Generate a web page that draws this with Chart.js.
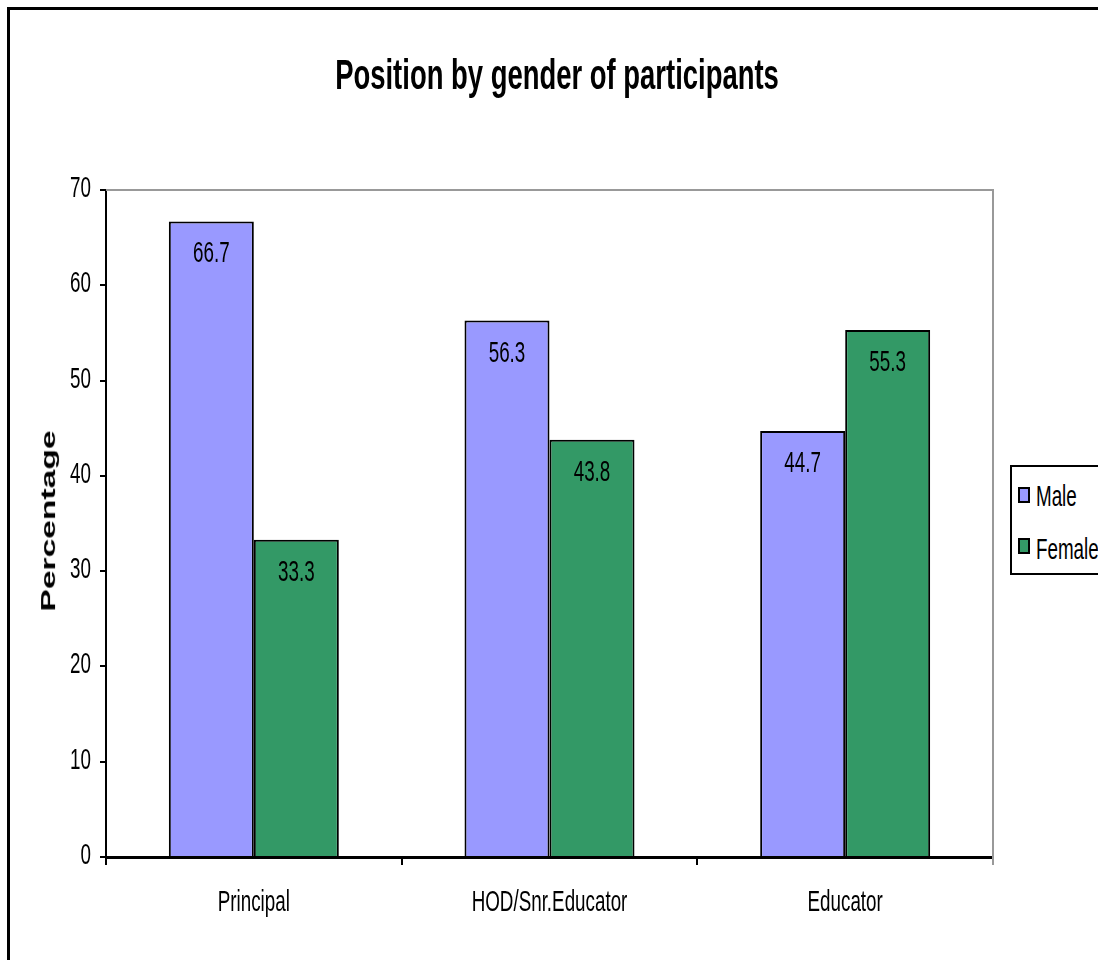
<!DOCTYPE html>
<html>
<head>
<meta charset="utf-8">
<script src="https://cdn.jsdelivr.net/npm/chart.js@4.4.1/dist/chart.umd.min.js"></script>
<style>
    html, body { margin: 0; padding: 0; background: #fff; overflow: hidden; }
    #wrap { position: relative; width: 1098px; height: 960px; overflow: hidden; font-family: 'Liberation Sans', Arial, sans-serif; color: #000; }
    #frame { position: absolute; left: 7px; top: 7px; width: 1300px; height: 1200px; border: 3px solid #000; }
    #chart { position: absolute; left: 0; top: 0; }
    .txt { position: absolute; white-space: nowrap; line-height: 1; }
    #title { left: 557px; top: 75px; font-size: 28px; font-weight: bold; transform: translate(-50%, -50%) scale(0.98, 1.55); }
    #ytitle { left: 48px; top: 521px; font-size: 21px; font-weight: bold; transform: translate(-50%, -50%) rotate(-90deg) scale(1.6, 0.95); }
    #legend { position: absolute; left: 1010px; top: 465px; width: 120px; height: 106px; border: 2px solid #000; background: #fff; }
    .box { position: absolute; width: 8px; height: 12px; border: 2px solid #000; }
    .ltxt { font-size: 20px; transform-origin: left center; transform: translate(0, -50%) scale(0.94, 1.45); }
</style>
</head>
<body>
<div id="wrap">
    <div id="frame"></div>
    <canvas id="chart" width="1098" height="960"></canvas>
    <div id="title" class="txt">Position by gender of participants</div>
    <div id="ytitle" class="txt">Percentage</div>
    <div id="legend"></div>
    <div class="box" style="left:1018px; top:487px; background:#9999ff"></div>
    <div class="txt ltxt" style="left:1036px; top:496px">Male</div>
    <div class="box" style="left:1018px; top:538px; background:#339966"></div>
    <div class="txt ltxt" style="left:1036px; top:549px">Female</div>
</div>
<script>
const positions = ['Principal', 'HOD/Snr.Educator', 'Educator'];
const maleValues = [66.7, 56.3, 44.7];
const femaleValues = [33.3, 43.8, 55.3];
const yTicks = [0, 10, 20, 30, 40, 50, 60, 70];

// the picture is squeezed sideways and stretched upward, so text is too
const SX = 0.94, SY = 1.45;
const textFont = "20px 'Liberation Sans', Arial, sans-serif";

function stretchText(ctx, text, x, y, align) {
    ctx.save();
    ctx.translate(x, y);
    ctx.scale(SX, SY);
    ctx.font = textFont;
    ctx.fillStyle = '#000';
    ctx.textAlign = align;
    ctx.textBaseline = 'middle';
    ctx.fillText(text, 0, 0);
    ctx.restore();
}

// grey frame on top and right of the plot area
const plotFrame = {
    id: 'plotFrame',
    beforeDatasetsDraw(chart) {
        const { ctx, chartArea } = chart;
        ctx.save();
        ctx.strokeStyle = '#999999';
        ctx.lineWidth = 2;
        ctx.beginPath();
        ctx.moveTo(chartArea.left, chartArea.top);
        ctx.lineTo(chartArea.right, chartArea.top);
        ctx.lineTo(chartArea.right, chartArea.bottom + 8);
        ctx.stroke();
        ctx.restore();
    }
};

// tick labels and value labels, drawn stretched like the original
const stretchedLabels = {
    id: 'stretchedLabels',
    afterDraw(chart) {
        const ctx = chart.ctx;
        const xs = chart.scales.x, ys = chart.scales.y;
        ys.ticks.forEach(t => {
            stretchText(ctx, String(t.value), ys.right - 15, ys.getPixelForValue(t.value) - 1, 'right');
        });
        positions.forEach((p, i) => {
            stretchText(ctx, p, xs.getPixelForValue(i), xs.top + 46, 'center');
        });
        chart.data.datasets.forEach((ds, i) => {
            chart.getDatasetMeta(i).data.forEach((bar, j) => {
                stretchText(ctx, ds.data[j].toFixed(1), bar.x, bar.y + 33, 'center');
            });
        });
    }
};

const ctx = document.getElementById('chart').getContext('2d');
new Chart(ctx, {
    type: 'bar',
    data: {
        labels: positions,
        datasets: [{
            label: 'Male',
            data: maleValues,
            backgroundColor: '#9999ff',
            borderColor: '#000',
            borderWidth: 2
        }, {
            label: 'Female',
            data: femaleValues,
            backgroundColor: '#339966',
            borderColor: '#000',
            borderWidth: 2
        }]
    },
    options: {
        responsive: false,
        animation: false,
        datasets: {
            bar: { categoryPercentage: 0.575, barPercentage: 1.0 }
        },
        layout: { padding: { top: 190, right: 105, left: 0, bottom: 0 } },
        scales: {
            x: {
                offset: true,
                afterFit: s => { s.height = 103; },
                grid: { offset: true, drawOnChartArea: false, drawTicks: true, tickLength: 8, color: '#000', lineWidth: 2 },
                border: { color: '#000', width: 3 },
                ticks: { display: false }
            },
            y: {
                min: 0,
                max: 70,
                afterFit: s => { s.width = 106; },
                afterBuildTicks: s => { s.ticks = yTicks.map(v => ({ value: v })); },
                grid: { drawOnChartArea: false, drawTicks: true, tickLength: 6, color: '#000', lineWidth: 2 },
                border: { color: '#000', width: 2 },
                ticks: { display: false }
            }
        },
        plugins: {
            legend: { display: false },
            tooltip: { enabled: false }
        }
    },
    plugins: [plotFrame, stretchedLabels]
});
</script>
</body>
</html>
